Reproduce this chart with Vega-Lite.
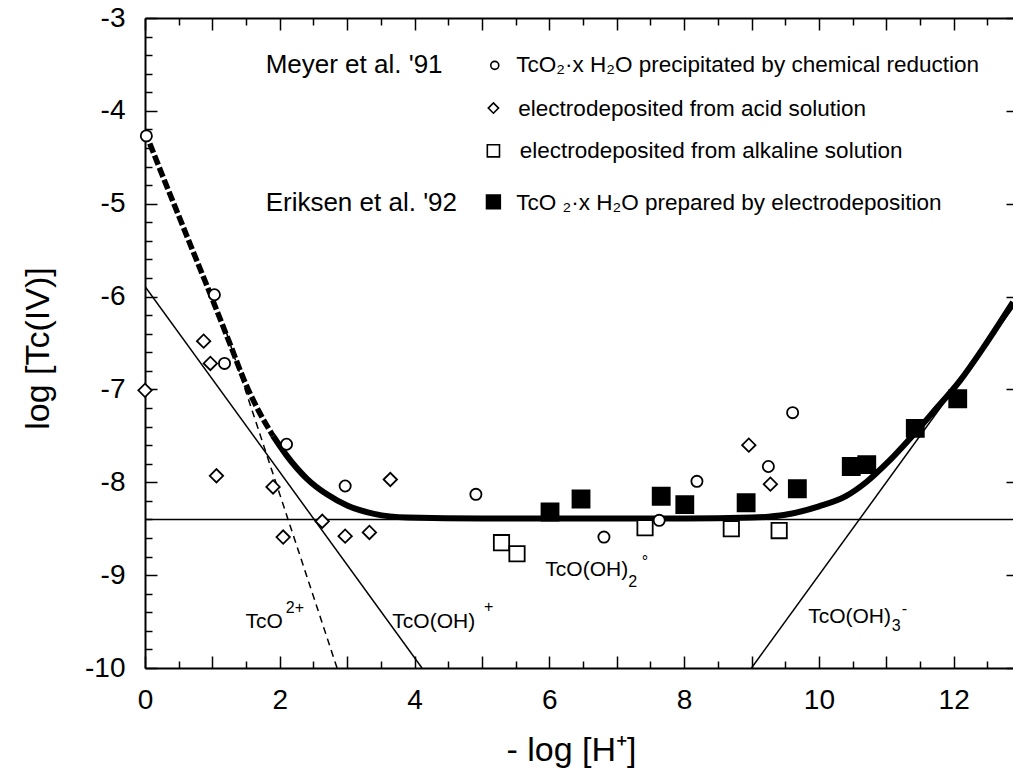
{
  "$schema": "https://vega.github.io/schema/vega-lite/v6.json",
  "width": 868,
  "height": 650,
  "autosize": {"type": "none"},
  "padding": {"left": 145, "top": 18, "right": 0, "bottom": 100},
  "background": "white",
  "config": {
    "view": {"stroke": null},
    "axis": {"grid": false, "domainColor": "black", "tickColor": "black", "labelColor": "black", "titleColor": "black", "domainWidth": 2, "tickWidth": 1.5, "labelFont": "Liberation Sans", "titleFont": "Liberation Sans"}
  },
  "datasets": {
    "thin": [
      {"line": "h", "x": 0, "y": -8.4}, {"line": "h", "x": 12.88, "y": -8.4},
      {"line": "a", "x": 0, "y": -5.89}, {"line": "a", "x": 4.11, "y": -10},
      {"line": "b", "x": 9.0, "y": -10}, {"line": "b", "x": 12.88, "y": -6.12}
    ],
    "dashed": [{"x": 1.2, "y": -6.37}, {"x": 2.85, "y": -10}],
    "curveDashed": [
      {"x": 0, "y": -4.22}, {"x": 0.25, "y": -4.68}, {"x": 0.5, "y": -5.13}, {"x": 0.75, "y": -5.58},
      {"x": 1.0, "y": -6.03}, {"x": 1.25, "y": -6.49}, {"x": 1.5, "y": -6.95}, {"x": 1.7, "y": -7.25}, {"x": 1.9, "y": -7.5}
    ],
    "curveSolid": [
      {"x": 1.9, "y": -7.5}, {"x": 2.1, "y": -7.71}, {"x": 2.4, "y": -7.96}, {"x": 2.7, "y": -8.13},
      {"x": 3.0, "y": -8.25}, {"x": 3.4, "y": -8.34}, {"x": 3.9, "y": -8.38}, {"x": 5.0, "y": -8.39},
      {"x": 8.0, "y": -8.39}, {"x": 9.0, "y": -8.38}, {"x": 9.5, "y": -8.35}, {"x": 10.0, "y": -8.26},
      {"x": 10.4, "y": -8.15}, {"x": 10.7, "y": -8.0}, {"x": 11.0, "y": -7.8}, {"x": 11.4, "y": -7.49},
      {"x": 11.7, "y": -7.24}, {"x": 12.1, "y": -6.9}, {"x": 12.44, "y": -6.55}, {"x": 12.88, "y": -6.06}
    ],
    "points": [
      {"series": "circle", "x": 0.02, "y": -4.27}, {"series": "circle", "x": 1.03, "y": -5.98},
      {"series": "circle", "x": 1.18, "y": -6.72}, {"series": "circle", "x": 2.1, "y": -7.59},
      {"series": "circle", "x": 2.97, "y": -8.04}, {"series": "circle", "x": 4.91, "y": -8.13},
      {"series": "circle", "x": 6.81, "y": -8.59}, {"series": "circle", "x": 7.63, "y": -8.41},
      {"series": "circle", "x": 8.19, "y": -7.99}, {"series": "circle", "x": 9.25, "y": -7.83},
      {"series": "circle", "x": 9.61, "y": -7.25},
      {"series": "diamond", "x": 0.0, "y": -7.01}, {"series": "diamond", "x": 0.87, "y": -6.48},
      {"series": "diamond", "x": 0.97, "y": -6.72}, {"series": "diamond", "x": 1.06, "y": -7.93},
      {"series": "diamond", "x": 1.9, "y": -8.05}, {"series": "diamond", "x": 2.63, "y": -8.42},
      {"series": "diamond", "x": 2.05, "y": -8.59}, {"series": "diamond", "x": 2.97, "y": -8.58},
      {"series": "diamond", "x": 3.33, "y": -8.54}, {"series": "diamond", "x": 3.64, "y": -7.97},
      {"series": "diamond", "x": 8.96, "y": -7.6}, {"series": "diamond", "x": 9.28, "y": -8.02},
      {"series": "square", "x": 5.29, "y": -8.65}, {"series": "square", "x": 5.52, "y": -8.77},
      {"series": "square", "x": 7.42, "y": -8.49}, {"series": "square", "x": 8.7, "y": -8.5},
      {"series": "square", "x": 9.41, "y": -8.52},
      {"series": "filled", "x": 6.01, "y": -8.32}, {"series": "filled", "x": 6.47, "y": -8.18},
      {"series": "filled", "x": 7.66, "y": -8.15}, {"series": "filled", "x": 8.01, "y": -8.24},
      {"series": "filled", "x": 8.92, "y": -8.22}, {"series": "filled", "x": 9.68, "y": -8.07},
      {"series": "filled", "x": 10.48, "y": -7.83}, {"series": "filled", "x": 10.71, "y": -7.81},
      {"series": "filled", "x": 11.43, "y": -7.42}, {"series": "filled", "x": 12.06, "y": -7.1}
    ],
    "legendSymbols": [
      {"series": "circle", "x": 5.19, "y": -3.51},
      {"series": "diamond", "x": 5.17, "y": -3.97},
      {"series": "square", "x": 5.17, "y": -4.43},
      {"series": "filled", "x": 5.17, "y": -4.98}
    ],
    "legendText": [
      {"x": 5.51, "y": -3.51, "text": "TcO₂·x H₂O precipitated by chemical reduction"},
      {"x": 5.54, "y": -3.98, "text": "electrodeposited from acid solution"},
      {"x": 5.56, "y": -4.43, "text": "electrodeposited from alkaline solution"},
      {"x": 5.51, "y": -4.99, "text": "TcO ₂·x H₂O prepared by electrodeposition"}
    ],
    "refs": [
      {"x": 1.79, "y": -3.51, "text": "Meyer et al. '91"},
      {"x": 1.79, "y": -4.99, "text": "Eriksen et al. '92"}
    ],
    "labels": [
      {"x": 1.49, "y": -9.5, "text": "TcO"},
      {"x": 3.67, "y": -9.5, "text": "TcO(OH)"},
      {"x": 5.94, "y": -8.94, "text": "TcO(OH)"},
      {"x": 9.84, "y": -9.45, "text": "TcO(OH)"}
    ],
    "scripts": [
      {"x": 2.09, "y": -9.35, "text": "2+"},
      {"x": 5.03, "y": -9.34, "text": "+"},
      {"x": 7.17, "y": -9.07, "text": "2"},
      {"x": 7.37, "y": -8.86, "text": "°"},
      {"x": 11.08, "y": -9.55, "text": "3"},
      {"x": 11.23, "y": -9.36, "text": "-"}
    ]
  },
  "layer": [
    {
      "data": {"name": "thin"},
      "mark": {"type": "line", "stroke": "black", "strokeWidth": 1.5, "clip": true},
      "encoding": {
        "x": {"field": "x", "type": "quantitative", "scale": {"domain": [0, 12.88], "nice": false, "zero": false},
          "axis": {"orient": "bottom", "values": [0,1,2,3,4,5,6,7,8,9,10,11,12], "tickSize": -12, "labelPadding": 30,
            "labelExpr": "datum.value % 2 == 0 ? '' + datum.value : ''", "labelFontSize": 28, "labelFlush": false, "labelOverlap": false,
            "title": "- log [H⁺]", "titleFontSize": 34, "titleFontWeight": "normal", "titleX": 426, "titleY": 82, "titleBaseline": "middle", "titleAlign": "center"}},
        "y": {"field": "y", "type": "quantitative", "scale": {"domain": [-10, -3], "nice": false, "zero": false},
          "axis": {"orient": "left", "values": [-10,-9,-8,-7,-6,-5,-4,-3], "tickSize": -12, "labelPadding": 32,
            "labelExpr": "'' + datum.value", "labelFontSize": 28, "labelFlush": false, "labelOverlap": false,
            "title": "log [Tc(IV)]", "titleFontSize": 34, "titleFontWeight": "normal", "titleAngle": -90, "titleX": -107, "titleY": 330, "titleBaseline": "middle", "titleAlign": "center"}},
        "detail": {"field": "line"}
      }
    },
    {
      "data": {"name": "dashed"},
      "mark": {"type": "line", "stroke": "black", "strokeWidth": 1.5, "strokeDash": [7, 5], "clip": true},
      "encoding": {
        "x": {"field": "x", "type": "quantitative",
          "axis": {"orient": "bottom", "values": [0.5,1.5,2.5,3.5,4.5,5.5,6.5,7.5,8.5,9.5,10.5,11.5,12.5], "tickSize": -7, "labels": false, "domain": false, "title": null}},
        "y": {"field": "y", "type": "quantitative",
          "axis": {"orient": "left", "values": [-9.8,-9.6,-9.4,-9.2,-8.8,-8.6,-8.4,-8.2,-7.8,-7.6,-7.4,-7.2,-6.8,-6.6,-6.4,-6.2,-5.8,-5.6,-5.4,-5.2,-4.8,-4.6,-4.4,-4.2,-3.8,-3.6,-3.4,-3.2], "tickSize": -7, "labels": false, "domain": false, "title": null}}
      }
    },
    {
      "data": {"name": "curveDashed"},
      "mark": {"type": "line", "stroke": "black", "strokeWidth": 5.5, "strokeDash": [10, 3], "interpolate": "monotone", "clip": true},
      "encoding": {
        "x": {"field": "x", "type": "quantitative",
          "axis": {"orient": "top", "values": [0,1,2,3,4,5,6,7,8,9,10,11,12], "tickSize": -12, "labels": false, "domain": true, "title": null}},
        "y": {"field": "y", "type": "quantitative",
          "axis": {"orient": "right", "values": [-10,-9,-8,-7,-6,-5,-4,-3], "tickSize": -7, "labels": false, "domain": false, "title": null}}
      }
    },
    {
      "data": {"name": "curveSolid"},
      "mark": {"type": "line", "stroke": "black", "strokeWidth": 6, "interpolate": "monotone", "clip": true},
      "encoding": {
        "x": {"field": "x", "type": "quantitative",
          "axis": {"orient": "top", "values": [0.5,1.5,2.5,3.5,4.5,5.5,6.5,7.5,8.5,9.5,10.5,11.5,12.5], "tickSize": -7, "labels": false, "domain": false, "title": null}},
        "y": {"field": "y", "type": "quantitative", "axis": null}
      }
    },
    {
      "data": {"name": "points"},
      "mark": {"type": "point", "filled": true, "stroke": "black", "strokeWidth": 1.8, "opacity": 1},
      "encoding": {
        "x": {"field": "x", "type": "quantitative", "axis": null},
        "y": {"field": "y", "type": "quantitative", "axis": null},
        "shape": {"field": "series", "type": "nominal", "scale": {"domain": ["circle", "diamond", "square", "filled"], "range": ["circle", "diamond", "square", "square"]}, "legend": null},
        "fill": {"field": "series", "type": "nominal", "scale": {"domain": ["circle", "diamond", "square", "filled"], "range": ["white", "white", "white", "black"]}, "legend": null},
        "size": {"field": "series", "type": "nominal", "scale": {"domain": ["circle", "diamond", "square", "filled"], "range": [125, 290, 150, 190]}, "legend": null}
      }
    },
    {
      "data": {"name": "legendSymbols"},
      "mark": {"type": "point", "filled": true, "stroke": "black", "strokeWidth": 1.6, "opacity": 1},
      "encoding": {
        "x": {"field": "x", "type": "quantitative", "axis": null},
        "y": {"field": "y", "type": "quantitative", "axis": null},
        "shape": {"field": "series", "type": "nominal", "legend": null},
        "fill": {"field": "series", "type": "nominal", "legend": null},
        "size": {"field": "series", "type": "nominal", "scale": {"domain": ["circle", "diamond", "square", "filled"], "range": [64, 190, 100, 110]}, "legend": null}
      }
    },
    {
      "data": {"name": "legendText"},
      "mark": {"type": "text", "align": "left", "baseline": "middle", "font": "Liberation Sans", "fontSize": 22.5, "color": "black"},
      "encoding": {
        "x": {"field": "x", "type": "quantitative", "axis": null},
        "y": {"field": "y", "type": "quantitative", "axis": null},
        "text": {"field": "text"}
      }
    },
    {
      "data": {"name": "refs"},
      "mark": {"type": "text", "align": "left", "baseline": "middle", "font": "Liberation Sans", "fontSize": 26, "color": "black"},
      "encoding": {
        "x": {"field": "x", "type": "quantitative", "axis": null},
        "y": {"field": "y", "type": "quantitative", "axis": null},
        "text": {"field": "text"}
      }
    },
    {
      "data": {"name": "labels"},
      "mark": {"type": "text", "align": "left", "baseline": "middle", "font": "Liberation Sans", "fontSize": 21, "color": "black"},
      "encoding": {
        "x": {"field": "x", "type": "quantitative", "axis": null},
        "y": {"field": "y", "type": "quantitative", "axis": null},
        "text": {"field": "text"}
      }
    },
    {
      "data": {"name": "scripts"},
      "mark": {"type": "text", "align": "left", "baseline": "middle", "font": "Liberation Sans", "fontSize": 16, "color": "black"},
      "encoding": {
        "x": {"field": "x", "type": "quantitative", "axis": null},
        "y": {"field": "y", "type": "quantitative", "axis": null},
        "text": {"field": "text"}
      }
    }
  ],
  "resolve": {"axis": {"x": "independent", "y": "independent"}, "scale": {"size": "independent"}}
}
